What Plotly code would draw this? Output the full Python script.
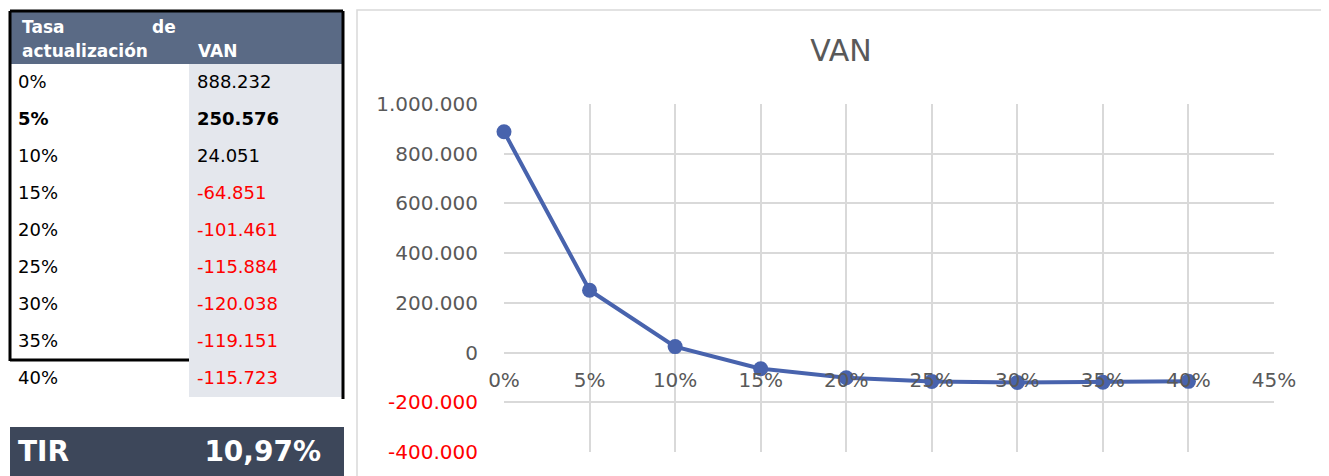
import plotly.graph_objects as go

# Datos
tasas = [0.00, 0.05, 0.10, 0.15, 0.20, 0.25, 0.30, 0.35, 0.40]
van = [888232, 250576, 24051, -64851, -101461, -115884, -120038, -119151, -115723]
tir_texto = '10,97%'
fila_negrita = 1  # la fila del 5% va en negrita

y_ticks = [-400000, -200000, 0, 200000, 400000, 600000, 800000, 1000000]
x_ticks = [0.00, 0.05, 0.10, 0.15, 0.20, 0.25, 0.30, 0.35, 0.40, 0.45]

W, H = 1329, 476
OFF = 8  # margen del body de la pagina
FONT = 'DejaVu Sans'
GRIS_TEXTO = '#595959'
AZUL = '#4863ad'
REJILLA = '#d9d9d9'
CABECERA = '#5a6a85'


# Formato con punto como separador de miles
def fmt_miles(v):
    return f'{v:,.0f}'.replace(',', '.')


# pixeles de pantalla -> coordenadas paper
def px_x(p):
    return (p - OFF) / W


def px_y(p):
    return 1 - (p - OFF) / H


def marcar(s, i):
    # todas las celdas pasan por el mismo camino de html
    return f'<b>{s}</b>' if i == fila_negrita else f'<span>{s}</span>'


# Textos de la tabla
col_tasa = [marcar(f'{t*100:.0f}%', i) for i, t in enumerate(tasas)]
col_van = [marcar(fmt_miles(v), i) for i, v in enumerate(van)]
color_van = ['red' if v < 0 else 'black' for v in van]

fig = go.Figure()

tabla = go.Table(
    domain=dict(x=[px_x(10), px_x(343)], y=[px_y(402), px_y(12)]),
    columnwidth=[179, 154],
    header=dict(
        values=['', ''],
        fill_color=CABECERA,
        line_color=CABECERA,
        height=51,
    ),
    cells=dict(
        values=[col_tasa, col_van],
        fill_color=['white', '#e4e7ed'],
        line_color=['white', '#e4e7ed'],
        align='left',
        font=dict(family=FONT, size=18, color=[['black'] * len(van), color_van]),
        height=36.6,
    ),
)
fig.add_trace(tabla)

tabla_tir = go.Table(
    domain=dict(x=[px_x(10), px_x(343)], y=[0, px_y(427)]),
    columnwidth=[179, 154],
    header=dict(
        values=['<b>TIR</b>', f'<b>{tir_texto}</b>\u2002'],
        fill_color='#3d475a',
        line_color='#3d475a',
        align=['left', 'right'],
        font=dict(family=FONT, size=28, color='white'),
        height=50,
    ),
    cells=dict(values=[[], []]),
)
fig.add_trace(tabla_tir)

fig.add_trace(go.Scatter(
    x=tasas, y=van,
    mode='lines+markers',
    line=dict(color=AZUL, width=4),
    marker=dict(color=AZUL, size=15),
    cliponaxis=False,
    showlegend=False,
    hoverinfo='skip',
))

y_min, y_max = -400000, 1000000
y_dom = [px_y(452), px_y(104)]
pos_cero = y_dom[0] + (0 - y_min) / (y_max - y_min) * (y_dom[1] - y_dom[0])

y_text = [f'<span style="color:red">{fmt_miles(v)}</span>' if v < 0 else fmt_miles(v)
          for v in y_ticks]

# textos de la cabecera de la tabla
cab = dict(xref='paper', yref='paper', showarrow=False, yanchor='middle',
           font=dict(family=FONT, size=17, color='white', weight='bold'))
anotaciones = [
    dict(cab, text='Tasa', x=px_x(20), y=px_y(27), xanchor='left'),
    dict(cab, text='de', x=px_x(178), y=px_y(27), xanchor='right'),
    dict(cab, text='actualización', x=px_x(20), y=px_y(51), xanchor='left'),
    dict(cab, text='VAN', x=px_x(196), y=px_y(51), xanchor='left'),
]

fig.update_layout(
    width=W, height=H,
    margin=dict(l=0, r=0, t=0, b=0, autoexpand=False),
    paper_bgcolor='white',
    plot_bgcolor='white',
    font=dict(family=FONT, color=GRIS_TEXTO),
    title=dict(text='VAN', x=px_x(841), xanchor='center', y=px_y(50), yanchor='middle',
               automargin=False,
               font=dict(family=FONT, size=30, color=GRIS_TEXTO)),
    xaxis=dict(
        domain=[px_x(504), px_x(1274)],
        range=[0, 0.45],
        tickvals=x_ticks,
        tickformat='.0%',
        anchor='free',
        position=pos_cero,
        automargin=False,
        showgrid=True, gridcolor=REJILLA, gridwidth=2,
        zeroline=False, showline=False,
        ticks='outside', ticklen=9, tickcolor='rgba(0,0,0,0)',
        tickfont=dict(family=FONT, size=20, color=GRIS_TEXTO),
    ),
    yaxis=dict(
        domain=y_dom,
        range=[y_min, y_max],
        tickvals=y_ticks,
        ticktext=y_text,
        automargin=False,
        showgrid=True, gridcolor=REJILLA, gridwidth=2,
        zeroline=False, showline=False,
        ticks='outside', ticklen=21, tickcolor='rgba(0,0,0,0)',
        tickfont=dict(family=FONT, size=20, color=GRIS_TEXTO),
    ),
    annotations=anotaciones,
    shapes=[
        # marco del grafico
        dict(type='rect', xref='paper', yref='paper',
             x0=px_x(357), x1=px_x(1325), y0=px_y(490), y1=px_y(10),
             line=dict(color=REJILLA, width=1.5), layer='below'),
        # bordes gruesos de la tabla
        dict(type='line', xref='paper', yref='paper',
             x0=px_x(10), x1=px_x(343), y0=px_y(11), y1=px_y(11),
             line=dict(color='black', width=3)),
        dict(type='line', xref='paper', yref='paper',
             x0=px_x(10), x1=px_x(10), y0=px_y(11), y1=px_y(361),
             line=dict(color='black', width=3)),
        dict(type='line', xref='paper', yref='paper',
             x0=px_x(10), x1=px_x(189), y0=px_y(360), y1=px_y(360),
             line=dict(color='black', width=3)),
        dict(type='line', xref='paper', yref='paper',
             x0=px_x(343), x1=px_x(343), y0=px_y(11), y1=px_y(399),
             line=dict(color='black', width=3)),
    ],
)

fig.write_html('out.html')
